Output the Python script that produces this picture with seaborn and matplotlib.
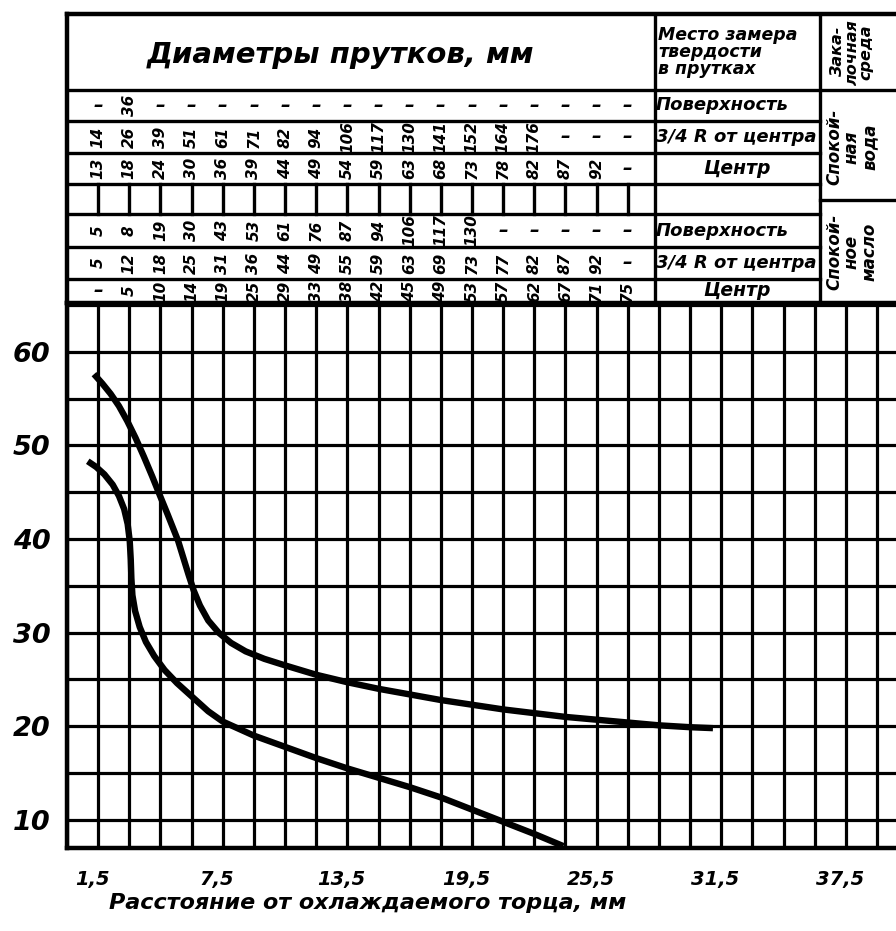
import numpy as np
import pandas as pd
import matplotlib
matplotlib.use("Agg")
import matplotlib.pyplot as plt
import seaborn as sns
from matplotlib.ticker import MultipleLocator
from matplotlib.transforms import ScaledTranslation

# ---------------- data ----------------
upper_dist = [1.3, 1.7, 2.1, 2.5, 2.9, 3.3, 3.7, 4.1, 4.5, 4.85, 5.1, 5.35, 5.6, 5.85, 6.1,
              6.4, 6.8, 7.3, 7.9, 8.6, 9.5, 10.5, 12.0, 13.5, 15.0, 16.5, 18.0, 19.5, 21.0,
              22.5, 24.0, 25.5, 27.0, 28.5, 30.0, 31.1]
upper_hrc = [57.6, 56.6, 55.5, 54.2, 52.6, 50.8, 48.8, 46.7, 44.5, 42.6, 41.2, 39.8, 38.0,
             36.2, 34.5, 32.9, 31.3, 30.0, 28.9, 28.0, 27.2, 26.5, 25.5, 24.7, 24.0, 23.4,
             22.8, 22.3, 21.8, 21.4, 21.0, 20.7, 20.4, 20.1, 19.9, 19.8]
lower_dist = [1.0, 1.4, 1.8, 2.2, 2.5, 2.75, 2.92, 3.02, 3.07, 3.1, 3.15, 3.28, 3.5, 3.8, 4.2,
              4.7, 5.3, 6.0, 6.8, 7.5, 9.0, 10.5, 12.0, 13.5, 15.0, 16.5, 18.0, 19.5, 21.0,
              22.5, 23.9]
lower_hrc = [48.3, 47.7, 46.9, 45.8, 44.6, 43.2, 41.6, 39.8, 37.8, 35.8, 34.0, 32.3, 30.6,
             29.0, 27.5, 26.0, 24.6, 23.2, 21.6, 20.5, 19.0, 17.8, 16.6, 15.5, 14.5, 13.5,
             12.4, 11.1, 9.8, 8.5, 7.2]

x_ticks = [1.5, 7.5, 13.5, 19.5, 25.5, 31.5, 37.5]
x_tick_labels = ["1,5", "7,5", "13,5", "19,5", "25,5", "31,5", "37,5"]
y_ticks = [10, 20, 30, 40, 50, 60]
y_tick_labels = ["10", "20", "30", "40", "50", "60"]

table_dist = [1.5, 3, 4.5, 6, 7.5, 9, 10.5, 12, 13.5, 15, 16.5, 18, 19.5, 21, 22.5, 24, 25.5, 27]
water_surface = ["–", "36", "–", "–", "–", "–", "–", "–", "–", "–", "–", "–", "–", "–", "–", "–", "–", "–"]
water_34r = ["14", "26", "39", "51", "61", "71", "82", "94", "106", "117", "130", "141", "152",
             "164", "176", "–", "–", "–"]
water_center = ["13", "18", "24", "30", "36", "39", "44", "49", "54", "59", "63", "68", "73",
                "78", "82", "87", "92", "–"]
oil_surface = ["5", "8", "19", "30", "43", "53", "61", "76", "87", "94", "106", "117", "130",
               "–", "–", "–", "–", "–"]
oil_34r = ["5", "12", "18", "25", "31", "36", "44", "49", "55", "59", "63", "69", "73", "77",
           "82", "87", "92", "–"]
oil_center = ["–", "5", "10", "14", "19", "25", "29", "33", "38", "42", "45", "49", "53", "57",
              "62", "67", "71", "75"]

row_labels = ["Поверхность", "3/4 R от центра", "Центр", "",
              "Поверхность", "3/4 R от центра", "Центр"]
table_title = "Диаметры прутков, мм"
place_header = "Место замера\nтвердости\nв прутках"
medium_header = "Зака-\nлочная\nсреда"
medium_water = "Спокой-\nная\nвода"
medium_oil = "Спокой-\nное\nмасло"
x_label = "Расстояние от охлаждаемого торца, мм"

# ---------------- figure ----------------
sns.set_theme(style="white")
plt.rcParams["font.family"] = ["DejaVu Sans"]
plt.rcParams["text.color"] = "black"
plt.rcParams["xtick.color"] = "black"
plt.rcParams["ytick.color"] = "black"
plt.rcParams["axes.labelcolor"] = "black"

W, H = 896, 931
fig = plt.figure(figsize=(W / 100, H / 100), dpi=100)
fig.patch.set_facecolor("white")

X0, XR = 67, 896          # axes left px, right px
PX_PER_MM = 20.77
XMAX = (XR - X0) / PX_PER_MM
TOP, BOT = 303, 848

ax = fig.add_axes([X0 / W, (H - BOT) / H, (XR - X0) / W, (BOT - TOP) / H])
df = pd.concat([
    pd.DataFrame({"dist": upper_dist, "hrc": upper_hrc, "curve": "upper"}),
    pd.DataFrame({"dist": lower_dist, "hrc": lower_hrc, "curve": "lower"}),
])
sns.lineplot(data=df, x="dist", y="hrc", hue="curve", palette={"upper": "black", "lower": "black"},
             estimator=None, sort=False, linewidth=4.6, legend=False, ax=ax,
             solid_capstyle="butt", solid_joinstyle="round", zorder=5)

ax.set_xlim(0, XMAX)
ax.set_ylim(7.0, 65.2)
ax.xaxis.set_minor_locator(MultipleLocator(1.5))
ax.yaxis.set_minor_locator(MultipleLocator(5))
ax.grid(which="both", color="black", linewidth=2.3)
ax.set_axisbelow(True)
ax.tick_params(which="both", length=0)
ax.set_xticks(x_ticks, x_tick_labels)
ax.set_yticks(y_ticks, y_tick_labels)
for lab in ax.get_yticklabels():
    lab.set_fontsize(19.5); lab.set_fontweight("bold"); lab.set_fontstyle("italic")
    lab.set_color("black")
ax.tick_params(axis="y", pad=12)
ax.tick_params(axis="x", pad=16)
for lab in ax.get_xticklabels():
    lab.set_fontsize(14); lab.set_fontweight("bold"); lab.set_fontstyle("italic")
    lab.set_color("black")
    lab.set_transform(lab.get_transform() + ScaledTranslation(-0.06, 0, fig.dpi_scale_trans))
for s in ["left", "bottom", "top"]:
    ax.spines[s].set_color("black")
    ax.spines[s].set_linewidth(3.2)
ax.spines["right"].set_visible(False)
ax.set_xlabel(x_label, fontsize=16, fontweight="bold", fontstyle="italic", color="black")
ax.xaxis.set_label_coords((368 - X0) / (XR - X0), -(893 - BOT) / (BOT - TOP))
ax.set_ylabel("")

# ---------------- table ----------------
T_TOP = 14
tax = fig.add_axes([X0 / W, (H - TOP) / H, (XR - X0) / W, (TOP - T_TOP) / H])
tax.set_xlim(0, XMAX)
tax.set_ylim(TOP, T_TOP)
tax.axis("off")

col_label = (655 - X0) / PX_PER_MM
col_medium = (820 - X0) / PX_PER_MM
rows = [90, 121, 153, 184, 214, 247, 279, 303]
lw = 2.4
k = dict(color="black", linewidth=lw, clip_on=False, solid_capstyle="projecting")
tax.plot([0, XMAX], [T_TOP, T_TOP], **{**k, "linewidth": 3.2})
tax.plot([0, 0], [T_TOP, TOP], **{**k, "linewidth": 3.2})
tax.plot([0, XMAX], [rows[0], rows[0]], **k)
for r in rows[1:-1]:
    tax.plot([0, col_medium], [r, r], **k)
tax.plot([col_medium, XMAX], [200, 200], **k)
tax.plot([col_label, col_label], [T_TOP, TOP], **k)
tax.plot([col_medium, col_medium], [T_TOP, TOP], **k)
for d in table_dist:
    tax.plot([d, d], [rows[3], rows[4]], **k)

tf = dict(fontweight="bold", fontstyle="italic", color="black")
tax.text((340 - X0) / PX_PER_MM, 55, table_title, ha="center", va="center", fontsize=21, **tf)
tax.text(col_label + 0.15, 52, place_header, ha="left", va="center", fontsize=12.5,
         linespacing=0.95, **tf)
tax.text((852 - X0) / PX_PER_MM, 52, medium_header, ha="center", va="center", fontsize=11.5,
         rotation=90, linespacing=0.95, **tf)
tax.text((852 - X0) / PX_PER_MM, 147, medium_water, ha="center", va="center", fontsize=12,
         rotation=90, linespacing=0.95, **tf)
tax.text((852 - X0) / PX_PER_MM, 252, medium_oil, ha="center", va="center", fontsize=12,
         rotation=90, linespacing=0.95, **tf)

row_centers = [(rows[i] + rows[i + 1]) / 2 for i in range(7)]
for lab, yc in zip(row_labels, row_centers):
    if not lab:
        continue
    if lab == "Центр":
        tax.text((col_label + col_medium) / 2, yc, lab, ha="center", va="center", fontsize=13.5, **tf)
    else:
        tax.text(col_label + 0.05, yc, lab, ha="left", va="center", fontsize=13, **tf)

series = [water_surface, water_34r, water_center, None, oil_surface, oil_34r, oil_center]
for vals, yc in zip(series, row_centers):
    if vals is None:
        continue
    for d, v in zip(table_dist, vals):
        tax.text(d, yc, v, ha="center", va="center", rotation=90 if v != "–" else 0,
                 fontsize=11 if v != "–" else 14, fontweight="bold", fontstyle="italic",
                 color="black")

fig.savefig("out.png", dpi=100, facecolor="white")
